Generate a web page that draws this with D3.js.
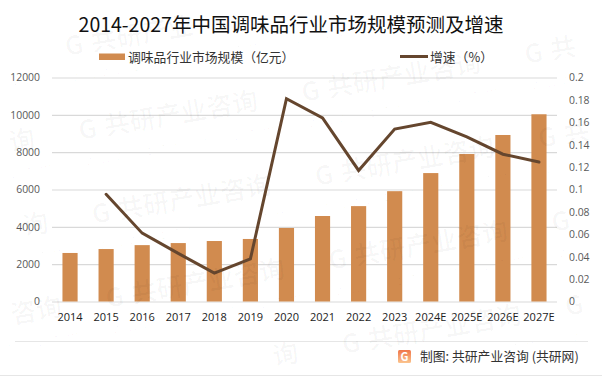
<!DOCTYPE html>
<html>
<head>
<meta charset="utf-8">
<script src="https://cdn.jsdelivr.net/npm/d3@7"></script>
<style>
  html, body { margin: 0; padding: 0; background: #fff; }
  svg { display: block; }
</style>
</head>
<body>
<div id="chart"></div>
<script>
const years = ["2014", "2015", "2016", "2017", "2018", "2019", "2020", "2021", "2022", "2023", "2024E", "2025E", "2026E", "2027E"];
const marketSize = [2600, 2810, 3020, 3130, 3240, 3350, 3940, 4580, 5110, 5910, 6880, 7900, 8920, 10030];
const growth = [null, 0.0957, 0.061, 0.043, 0.0254, 0.038, 0.181, 0.164, 0.117, 0.154, 0.16, 0.147, 0.1315, 0.1245];
const leftTicks = [0, 2000, 4000, 6000, 8000, 10000, 12000];
const rightTicks = [0, 0.02, 0.04, 0.06, 0.08, 0.1, 0.12, 0.14, 0.16, 0.18, 0.2];

const font = "'Noto Sans CJK SC', 'Noto Sans', sans-serif";
const numFont = "'Open Sans', 'Noto Sans', sans-serif";
const barColor = "#d18b4f";
const lineColor = "#65462e";

const svg = d3.select("#chart").append("svg")
    .attr("width", 602)
    .attr("height", 376)
    .style("font-family", font);

// Plot area
const margin = { top: 77.5, right: 557, bottom: 301.5, left: 52 };

const x = d3.scaleBand().domain(years).range([margin.left, margin.right]).paddingInner(0.58).paddingOuter(0.29);
const xPoint = d => x(d) + x.bandwidth() / 2;
const y = d3.scaleLinear().domain([0, 12000]).range([margin.bottom, margin.top]);
const y2 = d3.scaleLinear().domain([0, 0.2]).range([margin.bottom, margin.top]);

// Gridlines and left axis
const yAxis = svg.append("g")
    .attr("transform", `translate(${margin.left},0)`)
    .call(d3.axisLeft(y).tickValues(leftTicks).tickSize(-(margin.right - margin.left)).tickPadding(12).tickFormat(d3.format("d")));
yAxis.select(".domain").remove();
yAxis.selectAll("line").attr("stroke", "#d9d9d9").attr("stroke-width", 1.2);
yAxis.selectAll("text").attr("fill", "#595959").style("font-family", numFont).style("font-size", "10.4px");

// Right axis
const y2Axis = svg.append("g")
    .attr("transform", `translate(${margin.right},0)`)
    .call(d3.axisRight(y2).tickValues(rightTicks).tickSize(0).tickPadding(12).tickFormat(d => String(d)));
y2Axis.select(".domain").remove();
y2Axis.selectAll("text").attr("fill", "#595959").style("font-family", numFont).style("font-size", "10.4px");

// Bottom axis
const xAxis = svg.append("g")
    .attr("transform", `translate(0,${margin.bottom})`)
    .call(d3.axisBottom(x).tickSize(0).tickPadding(12));
xAxis.select(".domain").remove();
xAxis.selectAll("text").attr("fill", "#222").style("font-family", numFont).style("font-size", "11px");

// Bars
svg.append("g").selectAll("rect")
    .data(years)
    .enter()
    .append("rect")
    .attr("x", d => x(d))
    .attr("y", (d, i) => y(marketSize[i]))
    .attr("width", x.bandwidth())
    .attr("height", (d, i) => margin.bottom - y(marketSize[i]))
    .attr("fill", barColor);

// Growth line, the first year has no value
const line = d3.line()
    .defined(d => d.v !== null)
    .x(d => xPoint(d.year))
    .y(d => y2(d.v));

svg.append("path")
    .datum(years.map((year, i) => ({ year, v: growth[i] })))
    .attr("d", line)
    .attr("fill", "none")
    .attr("stroke", lineColor)
    .attr("stroke-width", 3)
    .attr("stroke-linejoin", "miter")
    .attr("stroke-linecap", "round");

// Title
svg.append("text")
    .attr("x", 291)
    .attr("y", 32)
    .attr("text-anchor", "middle")
    .attr("fill", "#111")
    .style("font-size", "19.5px")
    .text("2014-2027年中国调味品行业市场规模预测及增速");

// Legend
svg.append("rect").attr("x", 99).attr("y", 53.5).attr("width", 26).attr("height", 6.5).attr("fill", barColor);
svg.append("text").attr("x", 128).attr("y", 62).attr("fill", "#333").style("font-size", "12.8px")
    .text("调味品行业市场规模（亿元）");
svg.append("line").attr("x1", 400).attr("x2", 428).attr("y1", 56.5).attr("y2", 56.5)
    .attr("stroke", lineColor).attr("stroke-width", 3);
svg.append("text").attr("x", 430).attr("y", 62).attr("fill", "#333").style("font-size", "12.8px")
    .text("增速（%）");

// Footer
svg.append("line").attr("x1", 15).attr("x2", 588).attr("y1", 341.5).attr("y2", 341.5)
    .attr("stroke", "#e6e6e6").attr("stroke-width", 1);
svg.append("line").attr("x1", 0).attr("x2", 602).attr("y1", 375.5).attr("y2", 375.5)
    .attr("stroke", "#e6e6e6").attr("stroke-width", 1);

const grad = svg.append("defs").append("linearGradient")
    .attr("id", "logoGrad").attr("x1", 0).attr("y1", 0).attr("x2", 0).attr("y2", 1);
grad.append("stop").attr("offset", "0%").attr("stop-color", "#f0764a");
grad.append("stop").attr("offset", "100%").attr("stop-color", "#fbc48e");
svg.append("rect").attr("x", 398).attr("y", 350).attr("width", 13).attr("height", 13).attr("rx", 1.5)
    .attr("fill", "url(#logoGrad)");
svg.append("text").attr("x", 404.5).attr("y", 361).attr("text-anchor", "middle").attr("fill", "#fff")
    .style("font-size", "11px").style("font-weight", "bold").text("G");

svg.append("text").attr("x", 420).attr("y", 361).attr("fill", "#333").style("font-size", "12.8px")
    .text("制图: 共研产业咨询 (共研网)");

// Watermark lattice, one glyph at a time so nothing hangs over the page edge
const wm = svg.append("g").attr("pointer-events", "none").attr("fill", "#000").attr("fill-opacity", 0.028);
const angle = -9.7 * Math.PI / 180;

function stamp(chars, ox, oy, step, size, bold) {
    chars.forEach((ch, i) => {
        const cx = ox + i * step * Math.cos(angle);
        const cy = oy + i * step * Math.sin(angle);
        if (cx < 2 || cx > 602 - size - 4 || cy < size + 10 || cy > 366) return;
        wm.append("text")
            .attr("transform", `translate(${cx},${cy}) rotate(-9.7)`)
            .style("font-size", size + "px")
            .style("font-weight", bold ? "bold" : "normal")
            .style("font-family", bold ? font : numFont)
            .text(ch);
    });
}

d3.range(-1, 3).forEach(col => {
    d3.range(-1, 5).forEach(row => {
        const px = 80 + col * 223 + row * 13.5;
        const py = 128 - col * 38 + row * 84;
        stamp(Array.from("G共研产业咨询"), px, py + 12, 26, 26, true);
        stamp(Array.from("www.gonyn.com"), px + 6, py + 38, 15, 14, false);
    });
});
</script>
</body>
</html>
